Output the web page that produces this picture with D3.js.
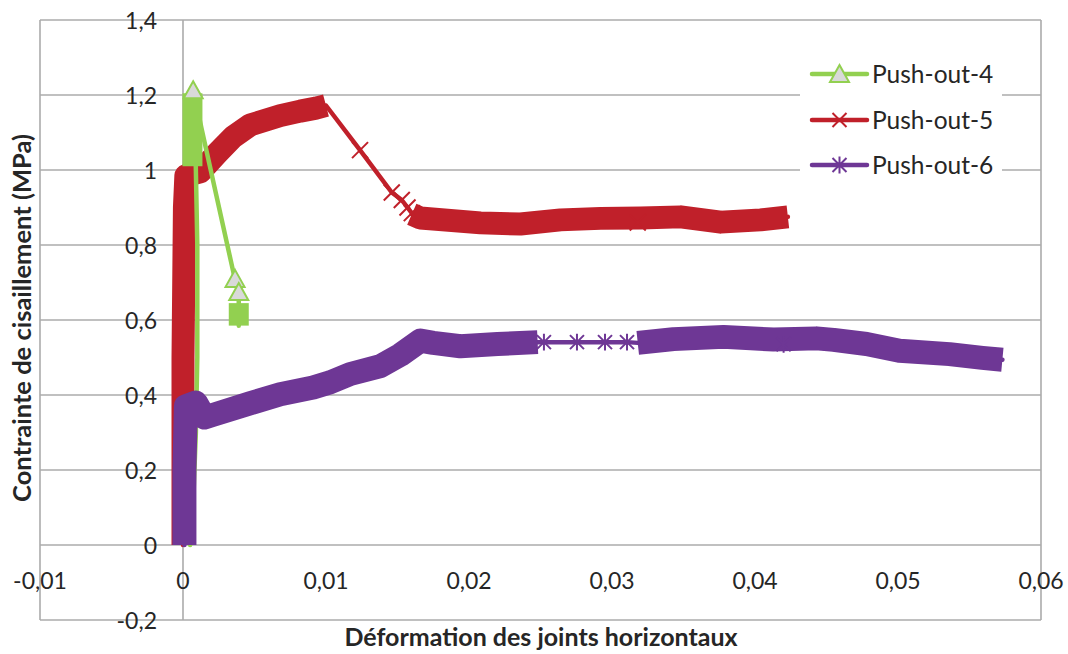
<!DOCTYPE html>
<html><head><meta charset="utf-8">
<script src="https://cdn.jsdelivr.net/npm/d3@7/dist/d3.min.js"></script>
<style>body{margin:0;background:#fff} svg{display:block}</style>
</head><body><svg id="c" width="1068" height="654"></svg>
<script>
// ---- axes ----
const xTicks = [-0.01, 0, 0.01, 0.02, 0.03, 0.04, 0.05, 0.06];
const xTickLabels = ["-0,01", "0", "0,01", "0,02", "0,03", "0,04", "0,05", "0,06"];
const yTicks = [-0.2, 0, 0.2, 0.4, 0.6, 0.8, 1, 1.2, 1.4];
const yTickLabels = ["-0,2", "0", "0,2", "0,4", "0,6", "0,8", "1", "1,2", "1,4"];
const seriesNames = ["Push-out-4", "Push-out-5", "Push-out-6"];
const xTitle = "Déformation des joints horizontaux";
const yTitle = "Contrainte de cisaillement (MPa)";

// ---- Push-out-4 (green) ----
const p4Climb = [[0.0005, 0], [0.0007, 0.1], [0.0009, 0.3], [0.001, 0.5], [0.001, 0.8], [0.0009, 1.0], [0.0008, 1.2]];
const p4Peak = [[0.00066, 1.205], [0.00066, 1.01]];
const p4Drop = [[0.0013, 1.11], [0.00364, 0.707], [0.0039, 0.672]];
const p4End = [[0.0039, 0.645], [0.0039, 0.585]];
const p4Markers = [[0.00071, 1.21], [0.00364, 0.707], [0.0039, 0.672]];

// ---- Push-out-5 (red) ----
const p5Rise = [[0, 0], [0, 0.5], [0.0001, 0.9], [0.0002, 0.985], [0.0012, 0.995], [0.0024, 1.045], [0.0035, 1.088],
  [0.0047, 1.12], [0.0068, 1.145], [0.0082, 1.157], [0.0093, 1.165], [0.0100, 1.172]];
const p5Drop = [[0.0100, 1.172], [0.01238, 1.053], [0.0146, 0.94], [0.0153, 0.92], [0.0157, 0.90], [0.0160, 0.885]];
const p5Plateau = [[0.0160, 0.882], [0.0166, 0.872], [0.0208, 0.859], [0.0236, 0.856], [0.0264, 0.867], [0.0292, 0.871],
  [0.0320, 0.872], [0.0348, 0.875], [0.0376, 0.861], [0.0404, 0.867], [0.0423, 0.875]];
const p5Extra = [[0.0318, 0.86]];

// ---- Push-out-6 (purple) ----
const p6Rise = [[0.0001, 0], [0.0001, 0.2], [0.0002, 0.37], [0.0009, 0.38], [0.0015, 0.34], [0.0021, 0.347], [0.0047, 0.378],
  [0.0068, 0.402], [0.0091, 0.42], [0.0103, 0.434], [0.0117, 0.456], [0.0138, 0.477], [0.0152, 0.507], [0.0166, 0.545],
  [0.0175, 0.539], [0.0194, 0.530], [0.0220, 0.536], [0.0248, 0.541]];
const p6Gap = [[0.02524, 0.541], [0.02755, 0.541], [0.02951, 0.541], [0.03105, 0.541]];
const p6Tail = [[0.0318, 0.539], [0.0343, 0.549], [0.0378, 0.555], [0.0413, 0.548], [0.0443, 0.551], [0.0455, 0.547],
  [0.0478, 0.536], [0.0501, 0.518], [0.0536, 0.509], [0.0559, 0.499], [0.0573, 0.494]];
const p6Extra = [[0.042, 0.535]];

const colors = ["#92D050", "#C0202A", "#6E3795"];

// ---- layout ----
const svg = d3.select("#c");
const x = d3.scaleLinear().domain([-0.01, 0.06]).range([40, 1041]);
const y = d3.scaleLinear().domain([-0.2, 1.4]).range([620, 20]);
const gridColor = "#ababab";
const textColor = "#262626";
const font = "Lato, 'Open Sans', sans-serif";

// grid
svg.append("g").selectAll("line").data(yTicks).join("line")
  .attr("x1", x(-0.01)).attr("x2", x(0.06))
  .attr("y1", d => y(d)).attr("y2", d => y(d))
  .attr("stroke", gridColor).attr("stroke-width", 1.6);
// borders / axis
[[x(-0.01)], [x(0.06)], [x(0)]].forEach(([px]) => {
  svg.append("line").attr("x1", px).attr("x2", px).attr("y1", y(1.4)).attr("y2", y(-0.2))
    .attr("stroke", gridColor).attr("stroke-width", 1.6);
});

// tick labels
svg.append("g").selectAll("text").data(yTicks).join("text")
  .attr("x", x(0) - 26).attr("y", d => y(d)).attr("dy", "0.38em")
  .attr("text-anchor", "end").attr("font-family", font).attr("font-size", 23)
  .attr("fill", textColor).text((d, i) => yTickLabels[i]);
svg.append("g").selectAll("text").data(xTicks).join("text")
  .attr("x", d => x(d)).attr("y", 589)
  .attr("text-anchor", "middle").attr("font-family", font).attr("font-size", 23)
  .attr("fill", textColor).text((d, i) => xTickLabels[i]);

// axis titles
svg.append("text").attr("x", 541).attr("y", 646).attr("text-anchor", "middle")
  .attr("font-family", font).attr("font-weight", "bold").attr("font-size", 25)
  .attr("fill", textColor).text(xTitle);
svg.append("text").attr("transform", "translate(31,318) rotate(-90)").attr("text-anchor", "middle")
  .attr("font-family", font).attr("font-weight", "bold").attr("font-size", 25.5)
  .attr("fill", textColor).text(yTitle);

const line = d3.line().x(d => x(d[0])).y(d => y(d[1]));
const THIN = 4.5;

function band(g, pts, color, w) {
  g.append("path").attr("d", line(pts)).attr("fill", "none").attr("stroke", color)
    .attr("stroke-width", w).attr("stroke-linejoin", "round").attr("stroke-linecap", "butt");
}
function thin(g, pts, color) {
  g.append("path").attr("d", line(pts)).attr("fill", "none").attr("stroke", color)
    .attr("stroke-width", THIN).attr("stroke-linejoin", "round").attr("stroke-linecap", "round");
}
function triangle(g, cx, cy, color) {
  g.append("path").attr("d", `M${cx},${cy - 10}L${cx + 9.5},${cy + 7}L${cx - 9.5},${cy + 7}Z`)
    .attr("fill", "#d9d9d9").attr("stroke", color).attr("stroke-width", 2);
}
function cross(g, cx, cy, color, r) {
  g.append("path").attr("d", `M${cx - r},${cy - r}L${cx + r},${cy + r}M${cx + r},${cy - r}L${cx - r},${cy + r}`)
    .attr("stroke", color).attr("stroke-width", 2).attr("fill", "none");
}
function star(g, cx, cy, color, r) {
  g.append("path").attr("d", `M${cx - r},${cy - r}L${cx + r},${cy + r}M${cx + r},${cy - r}L${cx - r},${cy + r}M${cx},${cy - r * 1.2}L${cx},${cy + r * 1.2}`)
    .attr("stroke", color).attr("stroke-width", 2).attr("fill", "none");
}

// red (drawn first)
const gR = svg.append("g");
thin(gR, [...p5Rise, ...p5Drop, ...p5Plateau], colors[1]);
band(gR, p5Rise, colors[1], 23);
band(gR, p5Plateau, colors[1], 23);
[...p5Drop.slice(1), ...p5Extra].forEach(d => cross(gR, x(d[0]), y(d[1]), colors[1], 8));

// green
const gG = svg.append("g");
thin(gG, [...p4Climb, ...p4Drop, ...p4End], colors[0]);
band(gG, p4Peak, colors[0], 20);
band(gG, p4End, colors[0], 20);
p4Markers.forEach(d => triangle(gG, x(d[0]), y(d[1]), colors[0]));

// purple
const gP = svg.append("g");
thin(gP, [...p6Rise, ...p6Gap, ...p6Tail], colors[2]);
band(gP, p6Rise, colors[2], 24);
band(gP, p6Tail, colors[2], 24);
[...p6Gap, ...p6Extra].forEach(d => star(gP, x(d[0]), y(d[1]), colors[2], 7));

// legend
const lg = svg.append("g");
lg.append("rect").attr("x", 800).attr("y", 52).attr("width", 202).attr("height", 136).attr("fill", "#fff");
const legY = [74, 120, 165];
seriesNames.forEach((name, i) => {
  const ly = legY[i];
  lg.append("line").attr("x1", 812).attr("x2", 867).attr("y1", ly).attr("y2", ly)
    .attr("stroke", colors[i]).attr("stroke-width", 4.5).attr("stroke-linecap", "round");
  if (i === 0) triangle(lg, 839.5, ly + 1, colors[0]);
  if (i === 1) cross(lg, 839.5, ly, colors[1], 7);
  if (i === 2) star(lg, 839.5, ly, colors[2], 7);
  lg.append("text").attr("x", 872).attr("y", ly + 9).attr("font-family", font).attr("font-size", 24.5)
    .attr("fill", textColor).text(name);
});
</script></body></html>
